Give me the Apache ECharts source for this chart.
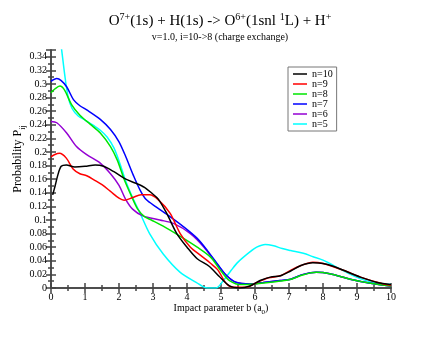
<!DOCTYPE html>
<html>
<head>
<meta charset="utf-8">
<script src="https://cdn.jsdelivr.net/npm/echarts@6/dist/echarts.min.js"></script>
<style>
  html, body { margin: 0; padding: 0; background: #fff; }
  #chart { width: 440px; height: 340px; }
</style>
</head>
<body>
<div id="chart"></div>
<script>
// [b (a0), P] pairs
const n10 = [[0.05,0.137],[0.12,0.15],[0.2,0.166],[0.3,0.179],[0.45,0.181],[0.7,0.178],[1.0,0.179],[1.3,0.181],[1.55,0.179],[1.85,0.171],[2.2,0.16],[2.5,0.154],[2.75,0.148],[2.95,0.14],[3.15,0.131],[3.4,0.11],[3.7,0.08],[4.0,0.06],[4.3,0.043],[4.65,0.032],[4.95,0.017],[5.25,0.003],[5.55,0.0],[5.85,0.003],[6.15,0.011],[6.45,0.016],[6.75,0.018],[7.05,0.025],[7.35,0.033],[7.7,0.037],[8.0,0.036],[8.3,0.032],[8.6,0.026],[9.1,0.016],[9.6,0.008],[10,0.005]];
const n9 = [[0,0.193],[0.1,0.196],[0.25,0.198],[0.45,0.191],[0.65,0.175],[0.85,0.168],[1.05,0.165],[1.3,0.158],[1.5,0.152],[1.75,0.142],[2.0,0.132],[2.15,0.129],[2.4,0.133],[2.65,0.137],[2.9,0.137],[3.15,0.13],[3.5,0.11],[3.8,0.08],[4.1,0.06],[4.4,0.048],[4.7,0.036],[4.9,0.027],[5.15,0.007],[5.35,0.001],[5.75,0.001],[6.05,0.008],[6.4,0.015],[6.75,0.018],[7.05,0.026],[7.35,0.033],[7.7,0.038],[8.0,0.036],[8.6,0.026],[9.1,0.016],[9.7,0.007],[10,0.004]];
const n8 = [[0,0.287],[0.12,0.293],[0.26,0.297],[0.4,0.291],[0.6,0.27],[0.85,0.254],[1.15,0.241],[1.45,0.228],[1.75,0.208],[1.95,0.188],[2.15,0.16],[2.35,0.137],[2.55,0.116],[2.75,0.105],[2.95,0.1],[3.3,0.091],[3.8,0.076],[4.3,0.06],[4.7,0.045],[5.0,0.025],[5.25,0.011],[5.6,0.005],[6.0,0.006],[6.4,0.008],[7.0,0.012],[7.4,0.019],[7.8,0.023],[8.2,0.021],[8.8,0.013],[9.4,0.007],[10,0.003]];
const n7 = [[0,0.304],[0.17,0.308],[0.3,0.305],[0.46,0.296],[0.66,0.277],[0.85,0.268],[1.05,0.262],[1.45,0.248],[1.75,0.233],[2.0,0.215],[2.2,0.193],[2.42,0.166],[2.62,0.144],[2.8,0.13],[3.1,0.119],[3.5,0.105],[3.9,0.09],[4.3,0.073],[4.6,0.055],[4.9,0.035],[5.17,0.018],[5.46,0.008],[5.85,0.006],[6.24,0.008],[6.74,0.011],[7.05,0.013],[7.42,0.02],[7.8,0.023],[8.2,0.021],[8.8,0.013],[9.4,0.007],[10,0.003]];
const n6 = [[0,0.245],[0.17,0.243],[0.46,0.228],[0.75,0.208],[1.05,0.196],[1.44,0.184],[1.75,0.168],[2.0,0.151],[2.2,0.13],[2.4,0.116],[2.7,0.106],[3.2,0.1],[3.6,0.095],[4.1,0.08],[4.5,0.06],[4.87,0.036],[5.17,0.018],[5.46,0.008],[5.85,0.006],[6.24,0.008],[6.74,0.011],[7.05,0.013],[7.42,0.02],[7.8,0.023],[8.2,0.021],[8.8,0.013],[9.4,0.007],[10,0.003]];
const n5 = [[0,0.46],[0.1,0.42],[0.2,0.385],[0.3,0.355],[0.4,0.315],[0.5,0.282],[0.62,0.264],[0.8,0.253],[1.0,0.247],[1.25,0.239],[1.45,0.232],[1.65,0.222],[1.85,0.206],[2.02,0.184],[2.2,0.157],[2.4,0.133],[2.62,0.11],[2.9,0.08],[3.3,0.05],[3.8,0.023],[4.28,0.008],[4.55,0.0005],[4.85,0.0],[5.07,0.011],[5.3,0.026],[5.5,0.038],[5.85,0.053],[6.05,0.06],[6.3,0.064],[6.55,0.062],[6.8,0.058],[7.05,0.055],[7.42,0.051],[7.71,0.046],[8.0,0.041],[8.2,0.036],[8.5,0.028],[8.9,0.018],[9.2,0.012],[9.5,0.008],[10,0.005]];

const seriesNames = ['n=10', 'n=9', 'n=8', 'n=7', 'n=6', 'n=5'];
const seriesData = [n10, n9, n8, n7, n6, n5];
const seriesColors = ['#000000', '#ff0000', '#00e600', '#0000ff', '#9400d3', '#00ffff'];

const FONT = 'Liberation Serif';
const axisColor = '#444';

const chart = echarts.init(document.getElementById('chart'));

function makeXAxis(position, showLabel) {
  return {
    type: 'value', position: position, min: 0, max: 10, interval: 1,
    name: showLabel ? '{a|Impact parameter b (a}{b|0}{a|)}' : '',
    nameLocation: 'middle', nameGap: 15, nameMoveOverlap: false,
    nameTextStyle: {
      rich: {
        a: { fontFamily: FONT, fontSize: 10, color: '#000', lineHeight: 11, verticalAlign: 'top' },
        b: { fontFamily: FONT, fontSize: 7, color: '#000', lineHeight: 7, padding: [7, 0, 0, 0] }
      }
    },
    axisLine: { lineStyle: { color: axisColor, width: 1.5 } },
    axisTick: { inside: true, length: 5, lineStyle: { color: axisColor, width: 1.5 } },
    minorTick: { show: true, splitNumber: 2, length: 3, lineStyle: { color: axisColor, width: 1.5 } },
    axisLabel: { show: showLabel, fontFamily: FONT, fontSize: 10, color: '#000', margin: 4 },
    splitLine: { show: false }
  };
}

function makeYAxis(position, showLabel) {
  return {
    type: 'value', position: position, min: 0, max: 0.35, interval: 0.02,
    name: showLabel ? '{a|Probability P}{b|ij}' : '',
    nameLocation: 'middle', nameGap: 26, nameMoveOverlap: false,
    nameTextStyle: {
      padding: [0, 0, 0, 20],
      rich: {
        a: { fontFamily: FONT, fontSize: 12, color: '#000', lineHeight: 13, verticalAlign: 'top' },
        b: { fontFamily: FONT, fontSize: 8, color: '#000', lineHeight: 8, padding: [8, 0, 0, 0] }
      }
    },
    axisLine: { lineStyle: { color: axisColor, width: 1.5 } },
    axisTick: { inside: true, length: 5, lineStyle: { color: axisColor, width: 1.5 } },
    minorTick: { show: true, splitNumber: 2, length: 3, lineStyle: { color: axisColor, width: 1.5 } },
    axisLabel: {
      show: showLabel, fontFamily: FONT, fontSize: 10, color: '#000', margin: 4,
      showMaxLabel: false,
      formatter: function (v) { return String(+v.toFixed(2)); }
    },
    splitLine: { show: false }
  };
}

const option = {
  animation: false,
  title: [
    {
      text: '{m|O}{s|7+}{m|(1s) + H(1s) -> O}{s|6+}{m|(1snl }{s|1}{m|L) + H}{s|+}',
      left: 'center', top: 11, padding: 0,
      textStyle: {
        rich: {
          m: { fontFamily: FONT, fontSize: 15, fontWeight: 'normal', color: '#000', lineHeight: 18, verticalAlign: 'bottom' },
          s: { fontFamily: FONT, fontSize: 10, fontWeight: 'normal', color: '#000', lineHeight: 10, padding: [0, 0, 7, 0], verticalAlign: 'bottom' }
        }
      }
    },
    {
      text: 'v=1.0, i=10->8 (charge exchange)',
      left: 'center', top: 32, padding: 0,
      textStyle: { fontFamily: FONT, fontSize: 10, fontWeight: 'normal', color: '#000' }
    }
  ],
  legend: {
    orient: 'vertical', left: 288, top: 67,
    data: seriesNames,
    icon: 'rect',
    itemWidth: 14, itemHeight: 1.5, itemGap: 0, itemTextGap: 6,
    padding: [2, 4, 2, 5],
    borderColor: '#777', borderWidth: 1,
    textStyle: { fontFamily: FONT, fontSize: 10, color: '#000', lineHeight: 10 }
  },
  grid: { left: 51, right: 49, top: 50, bottom: 52, outerBoundsMode: 'none' },
  xAxis: [makeXAxis('bottom', true), makeXAxis('top', false)],
  yAxis: [makeYAxis('left', true), makeYAxis('right', false)],
  series: seriesNames.map(function (name, i) {
    return {
      name: name, type: 'line', xAxisIndex: 0, yAxisIndex: 0,
      data: seriesData[i], smooth: 0.3, symbol: 'none', clip: true,
      lineStyle: { color: seriesColors[i], width: 1.5 },
      itemStyle: { color: seriesColors[i] },
      z: 10 - i
    };
  })
};

chart.setOption(option);
</script>
</body>
</html>
